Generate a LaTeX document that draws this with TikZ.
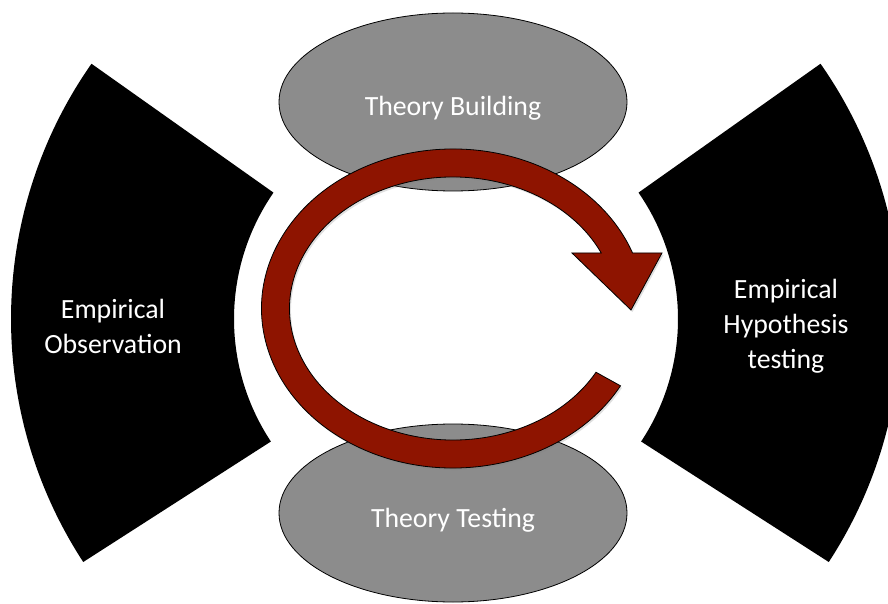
\documentclass[tikz,border=0pt]{standalone}
\usepackage{fontspec}
\setmainfont{Carlito}
\usepackage{tikz}
\usetikzlibrary{shapes.geometric,shadows,calc}

\definecolor{ovalgray}{RGB}{140,140,140}
\definecolor{loopred}{RGB}{142,20,0}

\tikzset{
  oval/.style={ellipse,draw=black,line width=0.8pt,fill=ovalgray,minimum width=348pt,minimum height=178pt,inner sep=0pt},
  txt/.style={text=white,align=center,font=\fontsize{27.8pt}{35pt}\selectfont},
  wing/.style={fill=black}
}

\begin{document}
\begin{tikzpicture}[x=1pt,y=1pt]
\useasboundingbox (0,0) rectangle (888,603);
\clip (0,0) rectangle (888,603);
\fill[white] (0,0) rectangle (888,603);

% the two black sectors of the ring
\coordinate (C) at (456,284);
\fill[wing,shift={(C)}] (145.3:222) arc[start angle=145.3,end angle=213.5,radius=222] -- (213.1:445) arc[start angle=213.1,end angle=145,radius=445] -- cycle;
\fill[wing,shift={(C)}] (-33.5:222) arc[start angle=-33.5,end angle=34.7,radius=222] -- (35:445) arc[start angle=35,end angle=-33.1,radius=445] -- cycle;

\node[txt] (obs) at (113,277) {Empirical\\Observation};
\node[txt] (hyp) at (786,277) {Empirical\\Hypothesis\\testing};

% ovals
\node[oval] (build) at (453,501) {};
\node[oval] (test) at (453,90) {};
\node[txt] (buildlbl) at ([yshift=-6.5pt]build.center) {Theory Building};
\node[txt] (testlbl) at ([yshift=-7pt]test.center) {Theory Testing};

% circular arrow
\coordinate (R) at (453,294.5);
\draw[fill=loopred,draw=black,line width=0.8pt,drop shadow={opacity=0.25,shadow xshift=1.5pt,shadow yshift=-2pt}]
  ($(R)+(331:191.5 and 159.5)$) arc[start angle=331,end angle=20.4,x radius=191.5,y radius=159.5]
  -- (662,350) -- (631,293) -- (572,350)
  -- ($(R)+(25:163.5 and 131.5)$) arc[start angle=25,end angle=331,x radius=163.5,y radius=131.5]
  -- cycle;

\end{tikzpicture}
\end{document}
